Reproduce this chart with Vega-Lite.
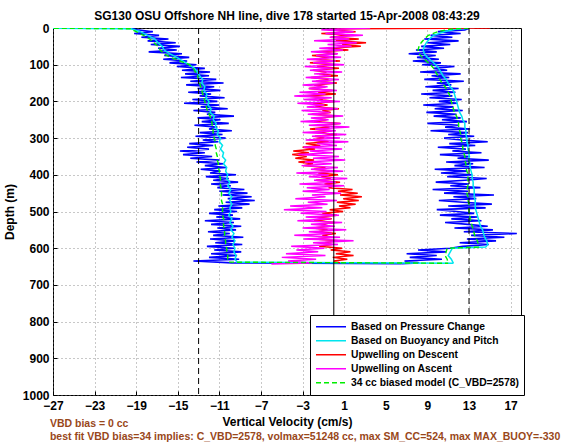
{
"$schema": "https://vega.github.io/schema/vega-lite/v6.json",
"width": 468, "height": 367,
"autosize": {"type": "none"},
"padding": {"left": 53, "top": 28, "right": 47, "bottom": 47},
"background": "white",
"title": {"text": "SG130 OSU Offshore NH line, dive 178 started 15-Apr-2008 08:43:29", "font": "Liberation Sans", "fontWeight": "bold", "fontSize": 12, "color": "black", "offset": -1, "anchor": "middle"},
"resolve": {"axis": {"x": "independent", "y": "independent"}},
"datasets": {
"Pd": [{"d":0,"v":-19.6},{"d":5,"v":-18.9},{"d":10,"v":-17.4},{"d":15,"v":-19.2},{"d":20,"v":-16.8},{"d":25,"v":-18.5},{"d":30,"v":-15.9},{"d":35,"v":-17.9},{"d":40,"v":-15.2},{"d":45,"v":-17.6},{"d":50,"v":-14.8},{"d":55,"v":-16.9},{"d":60,"v":-15.1},{"d":65,"v":-17.8},{"d":70,"v":-14.6},{"d":75,"v":-16.3},{"d":80,"v":-13.9},{"d":85,"v":-16.4},{"d":90,"v":-14.1},{"d":95,"v":-15.8},{"d":100,"v":-13.2},{"d":105,"v":-15.1},{"d":110,"v":-12.4},{"d":115,"v":-14.6},{"d":120,"v":-11.9},{"d":125,"v":-14.3},{"d":130,"v":-12.0},{"d":135,"v":-14.7},{"d":140,"v":-11.3},{"d":145,"v":-13.8},{"d":150,"v":-10.6},{"d":155,"v":-14.2},{"d":160,"v":-11.5},{"d":165,"v":-13.1},{"d":170,"v":-10.9},{"d":175,"v":-14.0},{"d":180,"v":-11.8},{"d":185,"v":-12.9},{"d":190,"v":-10.5},{"d":195,"v":-13.6},{"d":200,"v":-11.2},{"d":205,"v":-14.4},{"d":210,"v":-11.0},{"d":215,"v":-12.8},{"d":220,"v":-10.2},{"d":225,"v":-13.5},{"d":230,"v":-11.4},{"d":235,"v":-12.2},{"d":240,"v":-9.6},{"d":245,"v":-13.1},{"d":250,"v":-10.9},{"d":255,"v":-12.7},{"d":260,"v":-10.1},{"d":265,"v":-13.4},{"d":270,"v":-11.2},{"d":275,"v":-12.0},{"d":280,"v":-9.8},{"d":285,"v":-12.9},{"d":290,"v":-10.7},{"d":295,"v":-13.3},{"d":300,"v":-10.4},{"d":305,"v":-12.6},{"d":310,"v":-11.1},{"d":315,"v":-13.9},{"d":320,"v":-11.6},{"d":325,"v":-14.1},{"d":330,"v":-12.0},{"d":335,"v":-14.8},{"d":340,"v":-12.4},{"d":345,"v":-14.5},{"d":350,"v":-11.7},{"d":355,"v":-13.8},{"d":360,"v":-11.0},{"d":365,"v":-13.2},{"d":370,"v":-10.6},{"d":375,"v":-12.4},{"d":380,"v":-10.3},{"d":385,"v":-12.8},{"d":390,"v":-10.9},{"d":395,"v":-11.9},{"d":400,"v":-9.4},{"d":405,"v":-12.3},{"d":410,"v":-10.1},{"d":415,"v":-11.6},{"d":420,"v":-9.2},{"d":425,"v":-11.8},{"d":430,"v":-9.9},{"d":435,"v":-11.2},{"d":440,"v":-8.6},{"d":445,"v":-11.0},{"d":450,"v":-8.3},{"d":455,"v":-10.7},{"d":460,"v":-7.9},{"d":465,"v":-10.2},{"d":470,"v":-7.6},{"d":475,"v":-10.4},{"d":480,"v":-8.1},{"d":485,"v":-11.1},{"d":490,"v":-8.8},{"d":495,"v":-11.5},{"d":500,"v":-9.3},{"d":505,"v":-12.0},{"d":510,"v":-9.7},{"d":515,"v":-11.3},{"d":520,"v":-9.0},{"d":525,"v":-12.4},{"d":530,"v":-9.6},{"d":535,"v":-11.8},{"d":540,"v":-8.9},{"d":545,"v":-11.2},{"d":550,"v":-9.4},{"d":555,"v":-12.1},{"d":560,"v":-10.0},{"d":565,"v":-11.6},{"d":570,"v":-8.7},{"d":575,"v":-11.9},{"d":580,"v":-9.5},{"d":585,"v":-11.4},{"d":590,"v":-8.8},{"d":595,"v":-12.2},{"d":600,"v":-9.6},{"d":605,"v":-11.5},{"d":610,"v":-8.9},{"d":615,"v":-11.8},{"d":620,"v":-9.3},{"d":625,"v":-12.0},{"d":630,"v":-9.1},{"d":635,"v":-13.5},{"d":640,"v":-9.8},{"d":642,"v":6.5}],
"Pa": [{"d":642,"v":6.5},{"d":640,"v":8.2},{"d":635,"v":6.8},{"d":630,"v":10.4},{"d":625,"v":7.3},{"d":620,"v":9.9},{"d":615,"v":7.0},{"d":610,"v":10.8},{"d":605,"v":8.1},{"d":600,"v":11.2},{"d":595,"v":12.4},{"d":590,"v":14.9},{"d":585,"v":12.1},{"d":580,"v":15.6},{"d":575,"v":12.8},{"d":570,"v":16.4},{"d":565,"v":13.2},{"d":560,"v":17.6},{"d":555,"v":12.5},{"d":550,"v":15.3},{"d":545,"v":11.6},{"d":540,"v":14.8},{"d":535,"v":12.9},{"d":530,"v":10.7},{"d":525,"v":14.2},{"d":520,"v":11.3},{"d":515,"v":13.8},{"d":510,"v":10.2},{"d":505,"v":13.5},{"d":500,"v":11.8},{"d":495,"v":9.9},{"d":490,"v":14.6},{"d":485,"v":11.0},{"d":480,"v":15.2},{"d":475,"v":12.4},{"d":470,"v":10.1},{"d":465,"v":13.7},{"d":460,"v":11.5},{"d":455,"v":15.4},{"d":450,"v":10.6},{"d":445,"v":12.9},{"d":440,"v":9.5},{"d":435,"v":14.1},{"d":430,"v":11.2},{"d":425,"v":13.0},{"d":420,"v":9.8},{"d":415,"v":12.6},{"d":410,"v":14.7},{"d":405,"v":10.9},{"d":400,"v":13.3},{"d":395,"v":10.3},{"d":390,"v":12.8},{"d":385,"v":9.7},{"d":380,"v":14.5},{"d":375,"v":11.6},{"d":370,"v":13.4},{"d":365,"v":10.8},{"d":360,"v":14.9},{"d":355,"v":11.9},{"d":350,"v":13.1},{"d":345,"v":10.2},{"d":340,"v":14.2},{"d":335,"v":11.4},{"d":330,"v":12.7},{"d":325,"v":10.0},{"d":320,"v":13.6},{"d":315,"v":11.1},{"d":310,"v":14.8},{"d":305,"v":12.3},{"d":300,"v":10.6},{"d":295,"v":13.5},{"d":290,"v":11.0},{"d":285,"v":12.9},{"d":280,"v":9.3},{"d":275,"v":13.1},{"d":270,"v":10.7},{"d":265,"v":12.0},{"d":260,"v":9.0},{"d":255,"v":12.8},{"d":250,"v":10.4},{"d":245,"v":12.2},{"d":240,"v":9.6},{"d":235,"v":11.8},{"d":230,"v":8.9},{"d":225,"v":12.4},{"d":220,"v":9.7},{"d":215,"v":11.5},{"d":210,"v":8.6},{"d":205,"v":11.9},{"d":200,"v":10.1},{"d":195,"v":12.3},{"d":190,"v":9.2},{"d":185,"v":11.4},{"d":180,"v":8.4},{"d":175,"v":11.7},{"d":170,"v":9.5},{"d":165,"v":12.0},{"d":160,"v":8.8},{"d":155,"v":11.3},{"d":150,"v":9.9},{"d":145,"v":12.5},{"d":140,"v":8.7},{"d":135,"v":11.1},{"d":130,"v":9.4},{"d":125,"v":12.2},{"d":120,"v":8.3},{"d":115,"v":10.9},{"d":110,"v":9.6},{"d":105,"v":11.6},{"d":100,"v":8.5},{"d":95,"v":10.3},{"d":90,"v":7.6},{"d":85,"v":10.1},{"d":80,"v":8.0},{"d":75,"v":9.8},{"d":70,"v":7.2},{"d":65,"v":9.9},{"d":60,"v":7.9},{"d":55,"v":10.6},{"d":50,"v":8.4},{"d":45,"v":11.2},{"d":40,"v":9.0},{"d":35,"v":12.0},{"d":30,"v":8.7},{"d":25,"v":11.4},{"d":20,"v":9.3},{"d":15,"v":12.2},{"d":10,"v":10.0},{"d":5,"v":12.6},{"d":0,"v":13.1}],
"Cd": [{"d":0,"v":-30},{"d":2,"v":-19.5},{"d":10,"v":-18.6},{"d":20,"v":-17.9},{"d":30,"v":-17.2},{"d":40,"v":-16.9},{"d":50,"v":-16.5},{"d":60,"v":-16.3},{"d":70,"v":-15.8},{"d":80,"v":-15.1},{"d":90,"v":-14.5},{"d":100,"v":-13.9},{"d":110,"v":-13.4},{"d":120,"v":-13.1},{"d":130,"v":-12.9},{"d":140,"v":-12.6},{"d":150,"v":-12.7},{"d":160,"v":-12.4},{"d":170,"v":-12.5},{"d":180,"v":-12.2},{"d":190,"v":-12.3},{"d":200,"v":-12.0},{"d":210,"v":-12.1},{"d":220,"v":-11.8},{"d":230,"v":-11.9},{"d":240,"v":-11.5},{"d":250,"v":-11.6},{"d":260,"v":-11.3},{"d":270,"v":-11.4},{"d":280,"v":-11.1},{"d":290,"v":-11.2},{"d":300,"v":-10.9},{"d":310,"v":-11.0},{"d":320,"v":-10.7},{"d":330,"v":-10.9},{"d":340,"v":-10.6},{"d":350,"v":-10.7},{"d":360,"v":-10.4},{"d":370,"v":-10.6},{"d":380,"v":-10.3},{"d":390,"v":-10.4},{"d":400,"v":-10.2},{"d":410,"v":-10.3},{"d":420,"v":-10.0},{"d":430,"v":-10.2},{"d":440,"v":-9.9},{"d":450,"v":-10.1},{"d":460,"v":-9.8},{"d":470,"v":-10.0},{"d":480,"v":-9.8},{"d":490,"v":-10.0},{"d":500,"v":-9.9},{"d":510,"v":-10.1},{"d":520,"v":-9.8},{"d":530,"v":-10.0},{"d":540,"v":-9.7},{"d":550,"v":-9.9},{"d":560,"v":-9.6},{"d":570,"v":-9.8},{"d":580,"v":-9.5},{"d":590,"v":-9.7},{"d":600,"v":-9.5},{"d":610,"v":-9.6},{"d":620,"v":-9.4},{"d":630,"v":-9.5},{"d":638,"v":-9.3},{"d":641,"v":11.5}],
"Ca": [{"d":0,"v":13.5},{"d":3,"v":11.8},{"d":10,"v":10.6},{"d":20,"v":9.6},{"d":30,"v":9.2},{"d":40,"v":8.9},{"d":50,"v":8.7},{"d":60,"v":8.6},{"d":70,"v":8.7},{"d":80,"v":9.0},{"d":90,"v":9.4},{"d":100,"v":9.8},{"d":110,"v":10.1},{"d":120,"v":10.3},{"d":130,"v":10.5},{"d":140,"v":10.8},{"d":150,"v":11.0},{"d":160,"v":11.2},{"d":170,"v":11.5},{"d":180,"v":11.6},{"d":190,"v":11.7},{"d":200,"v":11.8},{"d":210,"v":11.9},{"d":220,"v":12.0},{"d":230,"v":12.1},{"d":240,"v":12.3},{"d":250,"v":12.4},{"d":260,"v":12.6},{"d":270,"v":12.6},{"d":280,"v":12.7},{"d":290,"v":12.7},{"d":300,"v":12.8},{"d":310,"v":12.8},{"d":320,"v":12.9},{"d":330,"v":12.9},{"d":340,"v":13.0},{"d":350,"v":13.0},{"d":360,"v":13.0},{"d":370,"v":13.1},{"d":380,"v":13.1},{"d":390,"v":13.2},{"d":400,"v":13.3},{"d":410,"v":13.3},{"d":420,"v":13.4},{"d":430,"v":13.4},{"d":440,"v":13.5},{"d":450,"v":13.5},{"d":460,"v":13.5},{"d":470,"v":13.6},{"d":480,"v":13.6},{"d":490,"v":13.6},{"d":500,"v":13.7},{"d":510,"v":13.8},{"d":520,"v":13.9},{"d":530,"v":14.0},{"d":540,"v":14.1},{"d":550,"v":14.3},{"d":560,"v":14.4},{"d":570,"v":14.5},{"d":580,"v":14.7},{"d":590,"v":14.8},{"d":597,"v":14.6},{"d":600,"v":11.4},{"d":610,"v":11.2},{"d":620,"v":11.0},{"d":630,"v":11.3},{"d":641,"v":11.5}],
"Gd": [{"d":0,"v":-30},{"d":2,"v":-19.6},{"d":10,"v":-19.0},{"d":20,"v":-18.3},{"d":30,"v":-17.7},{"d":40,"v":-17.3},{"d":50,"v":-16.9},{"d":60,"v":-16.7},{"d":70,"v":-16.3},{"d":80,"v":-15.7},{"d":90,"v":-14.8},{"d":100,"v":-13.9},{"d":110,"v":-13.5},{"d":120,"v":-13.3},{"d":130,"v":-13.1},{"d":140,"v":-13.0},{"d":150,"v":-12.9},{"d":160,"v":-12.8},{"d":170,"v":-12.7},{"d":180,"v":-12.6},{"d":190,"v":-12.5},{"d":200,"v":-12.4},{"d":210,"v":-12.3},{"d":220,"v":-12.2},{"d":230,"v":-12.1},{"d":240,"v":-11.9},{"d":250,"v":-11.8},{"d":260,"v":-11.7},{"d":270,"v":-11.7},{"d":280,"v":-11.6},{"d":290,"v":-11.6},{"d":300,"v":-11.5},{"d":310,"v":-11.4},{"d":320,"v":-11.4},{"d":330,"v":-11.3},{"d":340,"v":-11.3},{"d":350,"v":-11.2},{"d":360,"v":-11.2},{"d":370,"v":-11.1},{"d":380,"v":-11.1},{"d":390,"v":-11.0},{"d":400,"v":-11.0},{"d":410,"v":-10.9},{"d":420,"v":-10.9},{"d":430,"v":-10.9},{"d":440,"v":-10.8},{"d":450,"v":-10.8},{"d":460,"v":-10.8},{"d":470,"v":-10.8},{"d":480,"v":-10.7},{"d":490,"v":-10.7},{"d":500,"v":-10.7},{"d":510,"v":-10.7},{"d":520,"v":-10.6},{"d":530,"v":-10.6},{"d":540,"v":-10.6},{"d":550,"v":-10.5},{"d":560,"v":-10.5},{"d":570,"v":-10.5},{"d":580,"v":-10.4},{"d":590,"v":-10.4},{"d":600,"v":-10.3},{"d":610,"v":-10.3},{"d":620,"v":-10.2},{"d":630,"v":-10.2},{"d":638,"v":-10.1},{"d":641,"v":11.0}],
"Ga": [{"d":0,"v":13.0},{"d":3,"v":11.2},{"d":10,"v":10.0},{"d":20,"v":9.1},{"d":30,"v":8.7},{"d":40,"v":8.4},{"d":50,"v":8.2},{"d":60,"v":8.1},{"d":70,"v":8.2},{"d":80,"v":8.5},{"d":90,"v":8.9},{"d":100,"v":9.3},{"d":110,"v":9.6},{"d":120,"v":9.8},{"d":130,"v":10.0},{"d":140,"v":10.2},{"d":150,"v":10.4},{"d":160,"v":10.7},{"d":170,"v":10.9},{"d":180,"v":11.1},{"d":190,"v":11.2},{"d":200,"v":11.3},{"d":210,"v":11.4},{"d":220,"v":11.5},{"d":230,"v":11.6},{"d":240,"v":11.8},{"d":250,"v":11.9},{"d":260,"v":12.0},{"d":270,"v":12.0},{"d":280,"v":12.1},{"d":290,"v":12.2},{"d":300,"v":12.2},{"d":310,"v":12.3},{"d":320,"v":12.4},{"d":330,"v":12.4},{"d":340,"v":12.5},{"d":350,"v":12.6},{"d":360,"v":12.6},{"d":370,"v":12.7},{"d":380,"v":12.7},{"d":390,"v":12.8},{"d":400,"v":12.9},{"d":410,"v":12.9},{"d":420,"v":12.9},{"d":430,"v":12.9},{"d":440,"v":12.8},{"d":450,"v":12.8},{"d":460,"v":12.9},{"d":470,"v":12.9},{"d":480,"v":13.0},{"d":490,"v":13.0},{"d":500,"v":13.0},{"d":510,"v":13.1},{"d":520,"v":13.1},{"d":530,"v":13.2},{"d":540,"v":13.3},{"d":550,"v":13.4},{"d":560,"v":13.5},{"d":570,"v":13.6},{"d":580,"v":13.8},{"d":590,"v":13.9},{"d":597,"v":13.9},{"d":600,"v":10.9},{"d":610,"v":10.8},{"d":620,"v":10.7},{"d":630,"v":10.9},{"d":641,"v":11.0}],
"R": [{"d":0,"v":15.0},{"d":2,"v":1.5},{"d":5,"v":-0.5},{"d":10,"v":2.1},{"d":15,"v":-1.2},{"d":20,"v":1.6},{"d":25,"v":-0.3},{"d":30,"v":2.4},{"d":35,"v":0.2},{"d":40,"v":3.1},{"d":45,"v":0.8},{"d":50,"v":2.6},{"d":55,"v":-0.6},{"d":60,"v":1.4},{"d":65,"v":-1.5},{"d":70,"v":0.3},{"d":75,"v":-2.1},{"d":80,"v":-0.4},{"d":85,"v":-1.8},{"d":90,"v":0.6},{"d":95,"v":-2.3},{"d":100,"v":-0.2},{"d":105,"v":-1.6},{"d":110,"v":0.5},{"d":115,"v":-2.0},{"d":120,"v":-0.7},{"d":125,"v":-1.4},{"d":130,"v":0.4},{"d":135,"v":-2.2},{"d":140,"v":-0.5},{"d":145,"v":-1.7},{"d":150,"v":0.3},{"d":155,"v":-1.9},{"d":160,"v":-0.8},{"d":165,"v":-2.4},{"d":170,"v":-0.1},{"d":175,"v":-1.5},{"d":180,"v":0.2},{"d":185,"v":-2.6},{"d":190,"v":-0.9},{"d":195,"v":-1.3},{"d":200,"v":0.1},{"d":205,"v":-2.0},{"d":210,"v":-0.6},{"d":215,"v":-1.8},{"d":220,"v":0.5},{"d":225,"v":-1.1},{"d":230,"v":-0.3},{"d":235,"v":-2.1},{"d":240,"v":0.4},{"d":245,"v":-1.4},{"d":250,"v":-0.7},{"d":255,"v":-1.9},{"d":260,"v":0.6},{"d":265,"v":-1.2},{"d":270,"v":-0.4},{"d":275,"v":-2.3},{"d":280,"v":-0.2},{"d":285,"v":-1.6},{"d":290,"v":0.3},{"d":295,"v":-1.8},{"d":300,"v":-0.9},{"d":305,"v":-2.2},{"d":310,"v":-0.5},{"d":315,"v":-2.7},{"d":320,"v":-1.3},{"d":325,"v":-3.0},{"d":330,"v":-1.8},{"d":335,"v":-3.9},{"d":340,"v":-2.4},{"d":345,"v":-4.0},{"d":350,"v":-2.6},{"d":355,"v":-3.7},{"d":360,"v":-1.9},{"d":365,"v":-3.4},{"d":370,"v":-2.0},{"d":375,"v":-2.9},{"d":380,"v":-0.8},{"d":385,"v":-1.9},{"d":390,"v":-0.2},{"d":395,"v":-1.5},{"d":400,"v":0.4},{"d":405,"v":-1.2},{"d":410,"v":-0.3},{"d":415,"v":-1.7},{"d":420,"v":0.6},{"d":425,"v":-0.9},{"d":430,"v":0.2},{"d":435,"v":-0.5},{"d":440,"v":1.8},{"d":445,"v":0.4},{"d":450,"v":2.3},{"d":455,"v":0.6},{"d":460,"v":2.7},{"d":465,"v":0.9},{"d":470,"v":2.4},{"d":475,"v":0.3},{"d":480,"v":2.1},{"d":485,"v":0.5},{"d":490,"v":1.6},{"d":495,"v":-0.4},{"d":500,"v":0.9},{"d":505,"v":-1.1},{"d":510,"v":0.3},{"d":515,"v":-1.6},{"d":520,"v":-0.2},{"d":525,"v":-1.9},{"d":530,"v":0.1},{"d":535,"v":-1.3},{"d":540,"v":-0.4},{"d":545,"v":-2.0},{"d":550,"v":-0.6},{"d":555,"v":-1.5},{"d":560,"v":0.2},{"d":565,"v":-1.1},{"d":570,"v":-0.3},{"d":575,"v":-1.8},{"d":580,"v":0.4},{"d":585,"v":-0.9},{"d":590,"v":-0.2},{"d":595,"v":-1.4},{"d":600,"v":0.8},{"d":605,"v":-0.3},{"d":610,"v":1.6},{"d":615,"v":0.2},{"d":620,"v":1.9},{"d":625,"v":-0.1},{"d":630,"v":1.3},{"d":635,"v":0.0},{"d":640,"v":0.6}],
"M": [{"d":0,"v":3.5},{"d":3,"v":0.8},{"d":5,"v":-1.2},{"d":10,"v":1.9},{"d":15,"v":-0.8},{"d":20,"v":2.8},{"d":25,"v":-0.4},{"d":30,"v":1.5},{"d":35,"v":-1.9},{"d":40,"v":2.2},{"d":45,"v":-0.6},{"d":50,"v":1.7},{"d":55,"v":-1.4},{"d":60,"v":0.9},{"d":65,"v":-2.2},{"d":70,"v":0.4},{"d":75,"v":-1.7},{"d":80,"v":0.7},{"d":85,"v":-2.6},{"d":90,"v":0.2},{"d":95,"v":-2.0},{"d":100,"v":1.0},{"d":105,"v":-2.8},{"d":110,"v":-0.1},{"d":115,"v":-2.3},{"d":120,"v":0.8},{"d":125,"v":-1.9},{"d":130,"v":-0.3},{"d":135,"v":-2.7},{"d":140,"v":0.5},{"d":145,"v":-2.1},{"d":150,"v":0.1},{"d":155,"v":-3.0},{"d":160,"v":-0.6},{"d":165,"v":-2.4},{"d":170,"v":0.3},{"d":175,"v":-3.3},{"d":180,"v":-0.8},{"d":185,"v":-3.8},{"d":190,"v":-0.2},{"d":195,"v":-2.9},{"d":200,"v":0.6},{"d":205,"v":-3.5},{"d":210,"v":-0.9},{"d":215,"v":-2.6},{"d":220,"v":0.4},{"d":225,"v":-3.1},{"d":230,"v":-0.4},{"d":235,"v":-2.5},{"d":240,"v":0.9},{"d":245,"v":-2.2},{"d":250,"v":-0.5},{"d":255,"v":-3.2},{"d":260,"v":0.7},{"d":265,"v":-2.4},{"d":270,"v":1.5},{"d":275,"v":-1.8},{"d":280,"v":0.2},{"d":285,"v":-3.0},{"d":290,"v":1.2},{"d":295,"v":-2.1},{"d":300,"v":0.6},{"d":305,"v":-2.7},{"d":310,"v":1.4},{"d":315,"v":-1.6},{"d":320,"v":0.3},{"d":325,"v":-2.9},{"d":330,"v":0.8},{"d":335,"v":-2.3},{"d":340,"v":-0.1},{"d":345,"v":-3.4},{"d":350,"v":0.5},{"d":355,"v":-2.0},{"d":360,"v":1.1},{"d":365,"v":-2.8},{"d":370,"v":-0.2},{"d":375,"v":-3.1},{"d":380,"v":0.4},{"d":385,"v":-2.2},{"d":390,"v":0.9},{"d":395,"v":-3.6},{"d":400,"v":-0.5},{"d":405,"v":-2.4},{"d":410,"v":1.3},{"d":415,"v":-1.9},{"d":420,"v":0.2},{"d":425,"v":-3.3},{"d":430,"v":1.0},{"d":435,"v":-2.6},{"d":440,"v":-0.4},{"d":445,"v":-3.0},{"d":450,"v":0.7},{"d":455,"v":-2.1},{"d":460,"v":-0.8},{"d":465,"v":-3.7},{"d":470,"v":0.3},{"d":475,"v":-2.5},{"d":480,"v":-0.6},{"d":485,"v":-4.2},{"d":490,"v":-1.1},{"d":495,"v":-4.8},{"d":500,"v":-0.7},{"d":505,"v":-3.2},{"d":510,"v":0.5},{"d":515,"v":-2.7},{"d":520,"v":-0.3},{"d":525,"v":-3.5},{"d":530,"v":0.8},{"d":535,"v":-2.2},{"d":540,"v":0.1},{"d":545,"v":-3.0},{"d":550,"v":1.2},{"d":555,"v":-2.4},{"d":560,"v":-0.2},{"d":565,"v":-3.8},{"d":570,"v":0.6},{"d":575,"v":-2.9},{"d":580,"v":1.9},{"d":585,"v":-2.0},{"d":590,"v":0.4},{"d":595,"v":-4.1},{"d":600,"v":-0.9},{"d":605,"v":-3.6},{"d":610,"v":-1.5},{"d":615,"v":-4.6},{"d":620,"v":-0.8},{"d":625,"v":-5.0},{"d":630,"v":-1.7},{"d":635,"v":-4.4},{"d":640,"v":-2.1},{"d":643,"v":-6.0}],
"dashed": [{"v":-13},{"v":13}],
"zero": [{"v":0}]
},
"layer": [
{"data": {"name": "Pd"}, "mark": {"type": "line", "strokeWidth": 1.6, "clip": true},
 "encoding": {
  "x": {"field": "v", "type": "quantitative", "scale": {"domain": [-27, 18], "nice": false, "zero": false},
    "axis": {"title": "Vertical Velocity (cm/s)", "values": [-27,-23,-19,-15,-11,-7,-3,1,5,9,13,17], "grid": true, "format": "d", "labelPadding": 9, "titlePadding": 5}},
  "y": {"field": "d", "type": "quantitative", "scale": {"domain": [0, 1000], "reverse": true, "nice": false, "zero": false},
    "axis": {"title": "Depth (m)", "values": [0,100,200,300,400,500,600,700,800,900,1000], "grid": true, "format": "d", "labelPadding": 8, "titlePadding": 6}},
  "order": {"field": "d", "type": "quantitative"}, "color": {"datum": "Based on Pressure Change", "type": "nominal", "legend": {"title": null}}}},
{"data": {"name": "Pa"}, "mark": {"type": "line", "strokeWidth": 1.6, "clip": true},
 "encoding": {"x": {"field": "v", "type": "quantitative", "axis": null}, "y": {"field": "d", "type": "quantitative", "axis": null}, "order": {"field": "d", "type": "quantitative"}, "color": {"datum": "Based on Pressure Change", "type": "nominal", "legend": {"title": null}}}},
{"data": {"name": "Cd"}, "mark": {"type": "line", "strokeWidth": 1.5, "clip": true},
 "encoding": {"x": {"field": "v", "type": "quantitative", "axis": null}, "y": {"field": "d", "type": "quantitative", "axis": null}, "order": {"field": "d", "type": "quantitative"}, "color": {"datum": "Based on Buoyancy and Pitch", "type": "nominal", "legend": {"title": null}}}},
{"data": {"name": "Ca"}, "mark": {"type": "line", "strokeWidth": 1.5, "clip": true},
 "encoding": {"x": {"field": "v", "type": "quantitative", "axis": null}, "y": {"field": "d", "type": "quantitative", "axis": null}, "order": {"field": "d", "type": "quantitative"}, "color": {"datum": "Based on Buoyancy and Pitch", "type": "nominal", "legend": {"title": null}}}},
{"data": {"name": "R"}, "mark": {"type": "line", "strokeWidth": 1.5, "clip": true},
 "encoding": {"x": {"field": "v", "type": "quantitative", "axis": null}, "y": {"field": "d", "type": "quantitative", "axis": null}, "order": {"field": "d", "type": "quantitative"}, "color": {"datum": "Upwelling on Descent", "type": "nominal", "legend": {"title": null}}}},
{"data": {"name": "M"}, "mark": {"type": "line", "strokeWidth": 1.5, "clip": true},
 "encoding": {"x": {"field": "v", "type": "quantitative", "axis": null}, "y": {"field": "d", "type": "quantitative", "axis": null}, "order": {"field": "d", "type": "quantitative"}, "color": {"datum": "Upwelling on Ascent", "type": "nominal", "legend": {"title": null}}}},
{"data": {"name": "Gd"}, "mark": {"type": "line", "strokeWidth": 1.4, "strokeDash": [5, 3], "clip": true},
 "encoding": {"x": {"field": "v", "type": "quantitative", "axis": null}, "y": {"field": "d", "type": "quantitative", "axis": null}, "order": {"field": "d", "type": "quantitative"}, "color": {"datum": "34 cc biased model (C_VBD=2578)", "type": "nominal", "legend": {"title": null}}}},
{"data": {"name": "Ga"}, "mark": {"type": "line", "strokeWidth": 1.4, "strokeDash": [5, 3], "clip": true},
 "encoding": {"x": {"field": "v", "type": "quantitative", "axis": null}, "y": {"field": "d", "type": "quantitative", "axis": null}, "order": {"field": "d", "type": "quantitative"}, "color": {"datum": "34 cc biased model (C_VBD=2578)", "type": "nominal",
   "scale": {"domain": ["Based on Pressure Change", "Based on Buoyancy and Pitch", "Upwelling on Descent", "Upwelling on Ascent", "34 cc biased model (C_VBD=2578)"], "range": ["#0000ff", "#00e5ee", "#ff0000", "#ff00ff", "#00ee00"]},
   "legend": {"title": null, "orient": "none", "legendX": 257, "legendY": 287,
     "encode": {"symbols": {"update": {"strokeDash": {"signal": "datum.value === '34 cc biased model (C_VBD=2578)' ? [5,3] : [1,0]"}}}}}}}},
{"data": {"name": "dashed"}, "mark": {"type": "rule", "color": "black", "strokeWidth": 1, "strokeDash": [6, 4]}, "encoding": {"x": {"field": "v", "type": "quantitative", "axis": null}}},
{"data": {"name": "zero"}, "mark": {"type": "rule", "color": "black", "strokeWidth": 1}, "encoding": {"x": {"field": "v", "type": "quantitative", "axis": null}}},
{"data": {"values": [{}]}, "mark": {"type": "text", "align": "left", "baseline": "alphabetic", "font": "Liberation Sans", "fontWeight": "bold", "fontSize": 10.5, "color": "#99471a", "clip": false},
 "encoding": {"x": {"datum": -27.3, "type": "quantitative", "axis": null}, "y": {"datum": 1087, "type": "quantitative", "axis": null}, "text": {"value": "VBD bias = 0 cc"}}},
{"data": {"values": [{}]}, "mark": {"type": "text", "align": "left", "baseline": "alphabetic", "font": "Liberation Sans", "fontWeight": "bold", "fontSize": 10.5, "color": "#99471a", "clip": false},
 "encoding": {"x": {"datum": -27.3, "type": "quantitative", "axis": null}, "y": {"datum": 1123, "type": "quantitative", "axis": null}, "text": {"value": "best fit VBD bias=34 implies: C_VBD=2578, volmax=51248 cc, max SM_CC=524, max MAX_BUOY=-330"}}}
],
"config": {
"view": {"stroke": "black", "strokeWidth": 1},
"axis": {"labelFont": "Liberation Sans", "labelFontWeight": "bold", "labelFontSize": 12, "labelColor": "black", "titleFont": "Liberation Sans", "titleFontWeight": "bold", "titleFontSize": 12, "titleColor": "black", "domain": false, "tickColor": "black", "tickSize": -4, "gridColor": "#777", "gridDash": [1, 3], "gridOpacity": 0.8, "gridWidth": 1, "labelFlush": false, "labelOverlap": false},
"legend": {"symbolType": "stroke", "symbolSize": 900, "clipHeight": 13.5, "symbolStrokeWidth": 1.5, "labelFont": "Liberation Sans", "labelFontWeight": "bold", "labelFontSize": 10.3, "labelColor": "black", "labelOffset": 4, "labelLimit": 0, "rowPadding": 0, "padding": 5, "fillColor": "white", "strokeColor": "black"}
}
}
